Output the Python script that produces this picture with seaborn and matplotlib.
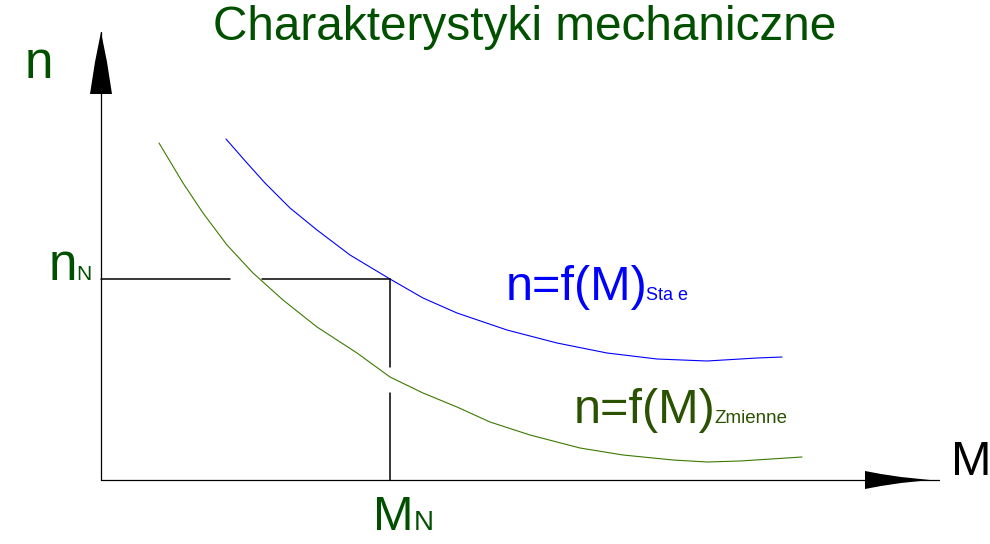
"""
mechanical characteristics n=f(M)
"""

import matplotlib
matplotlib.use('AGG')
import matplotlib.pyplot as plt
import seaborn as sns

# values (M and n in drawing units, origin at the axes corner)
stale_M = [125, 146, 164, 189, 216, 249, 289, 322, 356, 406, 456, 506, 556, 606, 656, 681]
stale_n = [341, 317, 297, 272, 250, 225, 201, 182, 167, 150, 137, 127, 121, 119, 122, 123]

zmienne_M = [58, 82, 102, 126, 152, 182, 216, 256, 289, 322, 356, 389, 429, 479, 522, 572, 606, 639, 701]
zmienne_n = [337, 297, 267, 235, 207, 180, 153, 127, 103, 87, 73, 58, 45, 32, 25, 20, 18, 19, 23]

# rated point
M_N = 289
n_N = 201

TITLE = 'Charakterystyki mechaniczne'
DARK_GREEN = '#005000'
LABEL_GREEN = '#2a5200'
CURVE_GREEN = '#3c7a00'

sns.set_style('white')
plt.rcParams['font.family'] = ['Liberation Sans', 'DejaVu Sans']

fig = plt.figure(figsize=(9.9, 5.44), dpi=100)
ax = fig.add_axes([0, 0, 1, 1])
ax.set_xlim(-101, 889)
ax.set_ylim(-64, 480)
ax.axis('off')

# curves
sns.lineplot(x=stale_M, y=stale_n, ax=ax, color='#0000ff', lw=0.8)
sns.lineplot(x=zmienne_M, y=zmienne_n, ax=ax, color=CURVE_GREEN, lw=0.8)

# axes with arrows
x_end = 838
y_end = 448
ax.plot([0, x_end], [0, 0], color='black', lw=0.9)
ax.plot([0, 0], [0, y_end], color='black', lw=0.9)
ax.fill([x_end - 74, x_end - 58, x_end - 38, x_end - 9, x_end - 38, x_end - 58, x_end - 74],
        [-9, -6, -3, 0, 3, 6, 9], color='black', lw=0)
ax.fill([-11, -6, 0, 6, 11], [y_end - 62, y_end - 30, y_end, y_end - 30, y_end - 62],
        color='black', lw=0)

# rated point guide lines (with gaps)
gap_M = (129, 161)
gap_n = (87, 113)
ax.plot([0, gap_M[0]], [n_N, n_N], color='black', lw=1.1)
ax.plot([gap_M[1], M_N], [n_N, n_N], color='black', lw=1.1)
ax.plot([M_N, M_N], [0, gap_n[0]], color='black', lw=1.1)
ax.plot([M_N, M_N], [gap_n[1], n_N], color='black', lw=1.1)

# texts
ax.text(424, 440, TITLE, ha='center', va='baseline', fontsize=34.4, color=DARK_GREEN)
ax.text(-76, 402, 'n', ha='left', va='baseline', fontsize=37, color=DARK_GREEN)
ax.text(850, 5, 'M', ha='left', va='baseline', fontsize=35, color='black')

ax.text(-52, 200, 'n', ha='left', va='baseline', fontsize=37, color=DARK_GREEN)
ax.text(-25, 200, 'N', ha='left', va='baseline', fontsize=15, color=DARK_GREEN)
ax.text(272, -50, 'M', ha='left', va='baseline', fontsize=35, color=DARK_GREEN)
ax.text(313, -50, 'N', ha='left', va='baseline', fontsize=20, color=DARK_GREEN)

ax.text(405, 180, 'n=f(M)', ha='left', va='baseline', fontsize=35, color='#0000ff')
ax.text(545, 180, 'Sta e', ha='left', va='baseline', fontsize=13, color='#0000ff')
ax.text(473, 57, 'n=f(M)', ha='left', va='baseline', fontsize=35, color=LABEL_GREEN)
ax.text(613, 57, 'Zmienne', ha='left', va='baseline', fontsize=13.5, color=LABEL_GREEN)

fig.savefig('out.png', dpi=100)
plt.close()
